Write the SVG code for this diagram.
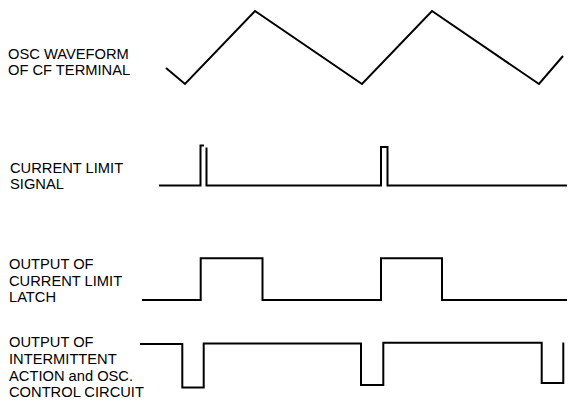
<svg xmlns="http://www.w3.org/2000/svg" width="568" height="402" viewBox="0 0 568 402">
<style>
.lbl{font-family:"Liberation Sans",Arial,sans-serif;font-size:14.7px;fill:#000}
.w{fill:none;stroke:#000;stroke-width:2;stroke-linejoin:miter}
</style>
<rect width="568" height="402" fill="#fff"/>
<g id="label-osc" class="lbl">
<text x="8" y="58.5">OSC WAVEFORM</text>
<text x="8" y="75">OF CF TERMINAL</text>
</g>
<g id="label-cl" class="lbl">
<text x="10" y="172.5">CURRENT LIMIT</text>
<text x="10" y="189">SIGNAL</text>
</g>
<g id="label-latch" class="lbl">
<text x="9" y="269">OUTPUT OF</text>
<text x="9" y="285.7">CURRENT LIMIT</text>
<text x="9" y="302.4">LATCH</text>
</g>
<g id="label-int" class="lbl">
<text x="9" y="347.3">OUTPUT OF</text>
<text x="9" y="364">INTERMITTENT</text>
<text x="9" y="380.7">ACTION and OSC.</text>
<text x="9" y="397.4">CONTROL CIRCUIT</text>
</g>
<g id="waveforms">
<polyline id="wave-osc" class="w" points="166,68 185,84 255,11 362,84 432,11 539,84 563,56"/>
<path id="wave-cl" class="w" d="M159,185.5 H200.5 V145.5 H204 M206.5,147.5 V185.5 H381 V147 H387.5 V185.5 H567"/>
<path id="wave-latch" class="w" d="M142,300 H200.7 V258.3 H262.5 V300 H381 V258.3 H442 V300 H567"/>
<path id="wave-int" class="w" d="M140,344 H182.3 V387.5 H203.7 V343.5 H361 V385 H383.3 V342.8 H541.7 V383 H563.3 V342.5"/>
</g>
</svg>
